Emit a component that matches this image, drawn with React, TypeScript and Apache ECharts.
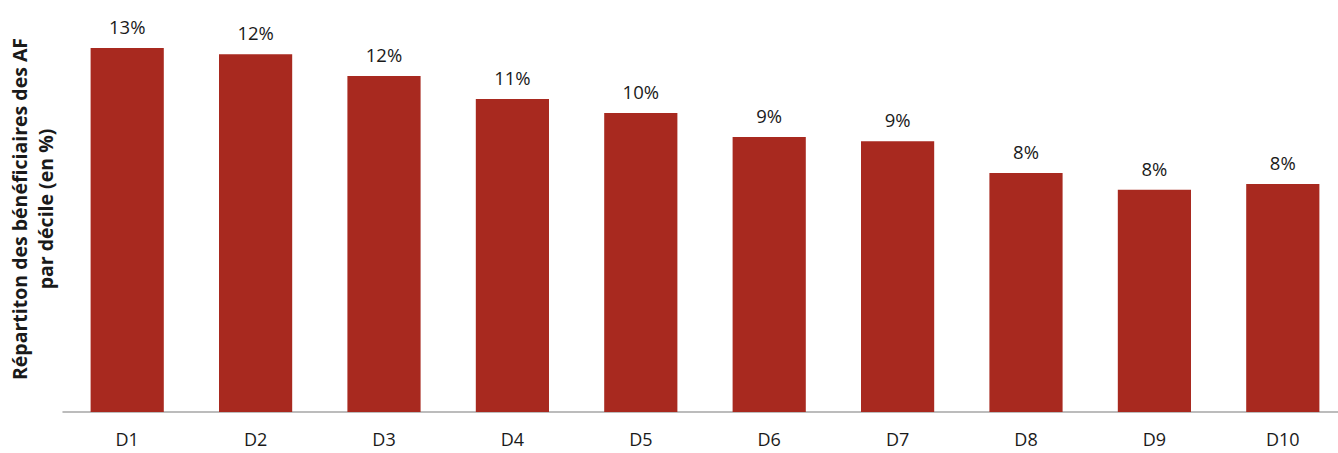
import React, { useEffect, useRef } from "react";
import * as echarts from "echarts";

const categories = ["D1", "D2", "D3", "D4", "D5", "D6", "D7", "D8", "D9", "D10"];
const shares = [12.55, 12.34, 11.59, 10.79, 10.31, 9.48, 9.34, 8.24, 7.66, 7.86];
const yAxisTitle = "Répartiton des bénéficiaires des AF\npar décile (en %)";

const FONT = "'Open Sans', Lato, sans-serif";

export default function App() {
  const ref = useRef<HTMLDivElement>(null);
  useEffect(() => {
    if (!ref.current) return;
    const chart = echarts.init(ref.current, null, { renderer: "svg" });
    chart.setOption({
      animation: false,
      grid: { left: 63, width: 1284, top: 6, bottom: 41, outerBoundsMode: "none", containLabel: false },
      xAxis: {
        type: "category",
        data: categories,
        axisLine: { lineStyle: { color: "#a6a6a6", width: 1.5 } },
        axisTick: { show: false },
        axisLabel: { color: "#1a1a1a", fontSize: 18, fontFamily: FONT, margin: 18 },
      },
      yAxis: {
        type: "value",
        min: 0,
        max: 14,
        axisLine: { show: false },
        axisTick: { show: false },
        axisLabel: { show: false },
        splitLine: { show: false },
        name: yAxisTitle,
        nameLocation: "middle",
        nameGap: 5,
        nameTextStyle: {
          color: "#1a1a1a",
          fontSize: 19.5,
          fontWeight: "bold",
          fontFamily: FONT,
          lineHeight: 26,
          align: "center",
        },
      },
      series: [
        {
          type: "bar",
          data: shares,
          barWidth: "57%",
          itemStyle: { color: "#a8291f" },
          label: {
            show: true,
            position: "top",
            distance: 12,
            color: "#1a1a1a",
            fontSize: 18.5,
            fontFamily: FONT,
            formatter: (p: any) => Math.round(p.value) + "%",
          },
        },
      ],
    });
    return () => chart.dispose();
  }, []);
  return <div ref={ref} style={{ width: 1338, height: 453, position: "absolute", left: 0, top: 0 }} />;
}
